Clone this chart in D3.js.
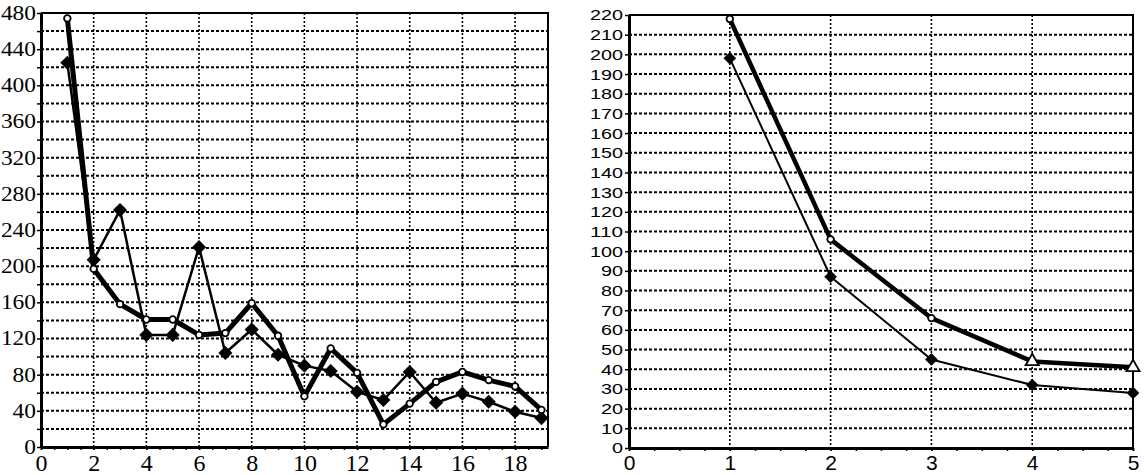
<!DOCTYPE html>
<html>
<head>
<meta charset="utf-8">
<script src="https://cdn.jsdelivr.net/npm/d3@7"></script>
<style>
  body { margin: 0; background: #fff; }
</style>
</head>
<body>
<svg id="grafico" width="1145" height="475"></svg>
<script>
// 1) dados ------------------------------------------------
// painel esquerdo
const esqX = [1, 2, 3, 4, 5, 6, 7, 8, 9, 10, 11, 12, 13, 14, 15, 16, 17, 18, 19];
const esqGrossa = [474, 197, 158, 141, 141, 124, 126, 159, 123, 56, 109, 82, 25, 48, 72, 83, 74, 67, 41];
const esqFina = [425, 207, 262, 124, 124, 221, 104, 130, 102, 90, 84, 61, 52, 83, 49, 59, 50, 39, 32];
const esqTicksX = [0, 2, 4, 6, 8, 10, 12, 14, 16, 18];
const esqTicksY = [0, 40, 80, 120, 160, 200, 240, 280, 320, 360, 400, 440, 480];

// painel direito
const dirX = [1, 2, 3, 4, 5];
const dirGrossa = [218, 106, 66, 44, 41];
const dirFina = [198, 87, 45, 32, 28];
const dirTicksX = [0, 1, 2, 3, 4, 5];
const dirTicksY = [0, 10, 20, 30, 40, 50, 60, 70, 80, 90, 100, 110, 120, 130, 140, 150, 160, 170, 180, 190, 200, 210, 220];

const svg = d3.select("#grafico");

// 2) função que desenha um painel ------------------------------
function painel(cfg) {
  const g = svg.append("g");
  const x = d3.scaleLinear().domain(cfg.xDominio).range([cfg.esq, cfg.dir]);
  const y = d3.scaleLinear().domain(cfg.yDominio).range([cfg.base, cfg.topo]);

  // grade pontilhada
  g.append("g").selectAll("line")
    .data(cfg.gradeY)
    .join("line")
      .attr("x1", cfg.esq).attr("x2", cfg.dir)
      .attr("y1", d => y(d)).attr("y2", d => y(d))
      .attr("stroke", "#000").attr("stroke-width", 2)
      .attr("stroke-dasharray", "3,2");
  g.append("g").selectAll("line")
    .data(cfg.gradeX)
    .join("line")
      .attr("x1", d => x(d)).attr("x2", d => x(d))
      .attr("y1", cfg.topo).attr("y2", cfg.base)
      .attr("stroke", "#000").attr("stroke-width", 1.6)
      .attr("stroke-dasharray", "2,2");

  // borda superior e direita
  g.append("path")
    .attr("d", `M${cfg.esq},${cfg.topo}H${cfg.dir}V${cfg.base}`)
    .attr("fill", "none").attr("stroke", "#000").attr("stroke-width", 2);

  // linhas
  const linha = (xs, ys) => d3.line()
    .x((d, i) => x(xs[i]))
    .y(d => y(d))(ys);

  g.append("path")
    .attr("d", linha(cfg.xs, cfg.fina))
    .attr("fill", "none").attr("stroke", "#000")
    .attr("stroke-width", cfg.larguraFina).attr("stroke-linejoin", "round");
  g.append("path")
    .attr("d", linha(cfg.xs, cfg.grossa))
    .attr("fill", "none").attr("stroke", "#000")
    .attr("stroke-width", cfg.larguraGrossa).attr("stroke-linejoin", "round");

  // marcadores: losangos na série fina
  g.append("g").selectAll("path")
    .data(cfg.fina)
    .join("path")
      .attr("transform", (d, i) => `translate(${x(cfg.xs[i])},${y(d)}) rotate(45)`)
      .attr("d", d3.symbol(d3.symbolSquare, cfg.tamLosango))
      .attr("fill", "#000");

  // marcadores: círculos (e triângulos) na série grossa
  g.append("g").selectAll("path")
    .data(cfg.grossa)
    .join("path")
      .attr("transform", (d, i) => `translate(${x(cfg.xs[i])},${y(d)})`)
      .attr("d", (d, i) => cfg.triangulo && i >= 3
        ? d3.symbol(d3.symbolTriangle, 75)()
        : d3.symbol(d3.symbolCircle, 34)())
      .attr("fill", "#fff").attr("stroke", "#000").attr("stroke-width", 1.8);

  // eixo Y
  const eixoY = g.append("g")
    .attr("transform", `translate(${cfg.esq},0)`)
    .call(d3.axisLeft(y)
      .tickValues(cfg.ticksYMenor)
      .tickSize(4).tickSizeOuter(0).tickPadding(cfg.padY)
      .tickFormat(d => cfg.ticksY.includes(d) ? d : ""));
  eixoY.select(".domain").attr("stroke-width", 3);
  eixoY.selectAll(".tick line").attr("stroke-width", 1.5);
  eixoY.selectAll("text")
    .attr("font-family", cfg.fonte).attr("font-size", cfg.tamY).attr("fill", "#000")
    .each(function () {
      const n = this.textContent.length;
      if (n) d3.select(this).attr("textLength", n * cfg.largDigito).attr("lengthAdjust", "spacingAndGlyphs");
    });

  // eixo X (menores e maiores)
  const eixoXm = g.append("g")
    .attr("transform", `translate(0,${cfg.base})`)
    .call(d3.axisBottom(x).tickValues(cfg.ticksXMenor).tickSize(3).tickSizeOuter(0).tickFormat(""));
  eixoXm.select(".domain").remove();
  eixoXm.selectAll(".tick line").attr("stroke-width", 1.5);

  const eixoX = g.append("g")
    .attr("transform", `translate(0,${cfg.base})`)
    .call(d3.axisBottom(x).tickValues(cfg.ticksX).tickSize(3).tickSizeOuter(0)
      .tickPadding(cfg.padX).tickFormat(d3.format("d")));
  eixoX.select(".domain").attr("stroke-width", 3);
  eixoX.selectAll(".tick line").attr("stroke-width", 1.5);
  eixoX.selectAll("text")
    .attr("font-family", cfg.fonte).attr("font-size", cfg.tamX).attr("fill", "#000");
}

// 3) painel esquerdo -----------------------------------------
painel({
  esq: 41, dir: 548, topo: 13, base: 447,
  xDominio: [0, 19.25], yDominio: [0, 480],
  xs: esqX, grossa: esqGrossa, fina: esqFina,
  gradeX: esqTicksX.slice(1),
  gradeY: d3.range(20, 480, 20),
  ticksX: esqTicksX, ticksXMenor: d3.range(0, 19.01, 0.5),
  ticksY: esqTicksY, ticksYMenor: d3.range(0, 481, 20),
  larguraFina: 2.5, larguraGrossa: 5, tamLosango: 100, triangulo: false,
  fonte: "'Liberation Serif', 'Times New Roman', serif",
  tamY: 20, largDigito: 11.7, padY: 1,
  tamX: 24, padX: 4
});

// 4) painel direito -----------------------------------------
painel({
  esq: 629, dir: 1133, topo: 15, base: 448,
  xDominio: [0, 5], yDominio: [0, 220],
  xs: dirX, grossa: dirGrossa, fina: dirFina,
  gradeX: dirTicksX.slice(1, 5),
  gradeY: d3.range(10, 220, 10),
  ticksX: dirTicksX, ticksXMenor: d3.range(0, 5.01, 0.25),
  ticksY: dirTicksY, ticksYMenor: dirTicksY,
  larguraFina: 2, larguraGrossa: 4.5, tamLosango: 80, triangulo: true,
  fonte: "'Liberation Sans', Arial, sans-serif",
  tamY: 15.5, largDigito: 11, padY: 2,
  tamX: 21, padX: 4
});
</script>
</body>
</html>
